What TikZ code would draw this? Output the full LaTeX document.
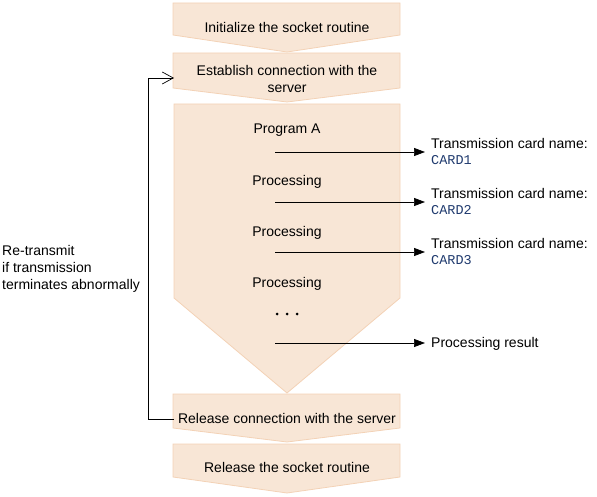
\documentclass[tikz,border=0pt]{standalone}
\usepackage{fontspec}
\setmainfont{Liberation Sans}
\setmonofont{Liberation Mono}
\usetikzlibrary{arrows.meta}
\definecolor{boxfill}{HTML}{F8E6D6}
\definecolor{boxline}{HTML}{F3D2B6}
\definecolor{cardblue}{HTML}{1F3A6E}
\begin{document}
\begin{tikzpicture}[x=1pt,y=-1pt,
  font=\fontsize{14}{17}\selectfont,
  stage/.style={fill=boxfill,draw=boxline,line width=0.8pt},
  txt/.style={inner sep=0pt,anchor=mid,yshift=-2.5pt},
  lbl/.style={inner sep=0pt,anchor=mid west,yshift=-2.5pt},
  card/.style={inner sep=0pt,anchor=mid west,yshift=-2pt,text=cardblue,font=\ttfamily\fontsize{13.5}{15}\selectfont},
  outarrow/.style={-{Triangle[length=11pt,width=8pt]},line width=0.7pt},
  loopline/.style={-{Straight Barb[length=11pt,width=12pt,line width=0.7pt]},line width=0.7pt},
  dot/.style={circle,fill=black,inner sep=0pt,minimum size=3pt}]
\useasboundingbox (0,0) rectangle (597,497);
% stages
\path[stage] (173,3) -- (400,3) -- (400,35) -- (287,52) -- (173,35) -- cycle;
\path[stage] (173,53) -- (400,53) -- (400,88) -- (287,102) -- (173,88) -- cycle;
\path[stage] (174,104) -- (400,104) -- (400,298) -- (287,393) -- (174,298) -- cycle;
\path[stage] (173,394) -- (400,394) -- (400,428) -- (287,442) -- (173,428) -- cycle;
\path[stage] (173,444) -- (400,444) -- (400,477) -- (287,493) -- (173,477) -- cycle;
% stage texts
\node[txt] (init) at (287,27) {Initialize the socket routine};
\node[inner sep=0pt,anchor=center,align=center] (estab) at (287,79) {Establish connection with the\\server};
\node[txt] (prog) at (287,128) {Program A};
\node[txt] (proc1) at (287,180) {Processing};
\node[txt] (proc2) at (287,231) {Processing};
\node[txt] (proc3) at (287,282) {Processing};
\node[dot] (d1) at (277,314) {};
\node[dot] (d2) at (287,314) {};
\node[dot] (d3) at (297,314) {};
\node[txt] (relconn) at (287,418) {Release connection with the server};
\node[txt] (relsock) at (287,467) {Release the socket routine};
% right labels
\node[lbl] (t1) at (431,143) {Transmission card name:};
\node[card] (c1) at (431,160) {CARD1};
\node[lbl] (t2) at (431,193) {Transmission card name:};
\node[card] (c2) at (431,210) {CARD2};
\node[lbl] (t3) at (431,243) {Transmission card name:};
\node[card] (c3) at (431,260) {CARD3};
\node[lbl] (res) at (431,342) {Processing result};
% left label
\node[inner sep=0pt,anchor=west,align=left,yshift=-2pt] (retx) at (2,267) {Re-transmit\\if transmission\\terminates abnormally};
% arrow coordinates
\coordinate (s1) at (275,152); \coordinate (e1) at (425,152);
\coordinate (s2) at (275,202); \coordinate (e2) at (425,202);
\coordinate (s3) at (275,252); \coordinate (e3) at (425,252);
\coordinate (s4) at (275,343); \coordinate (e4) at (425,343);
\draw[outarrow] (s1) -- (e1);
\draw[outarrow] (s2) -- (e2);
\draw[outarrow] (s3) -- (e3);
\draw[outarrow] (s4) -- (e4);
% loop
\coordinate (lstart) at (174,419);
\coordinate (lend) at (174,78);
\draw[loopline] (lstart) -- (148,419) -- (148,78) -- (lend);
\end{tikzpicture}
\end{document}
